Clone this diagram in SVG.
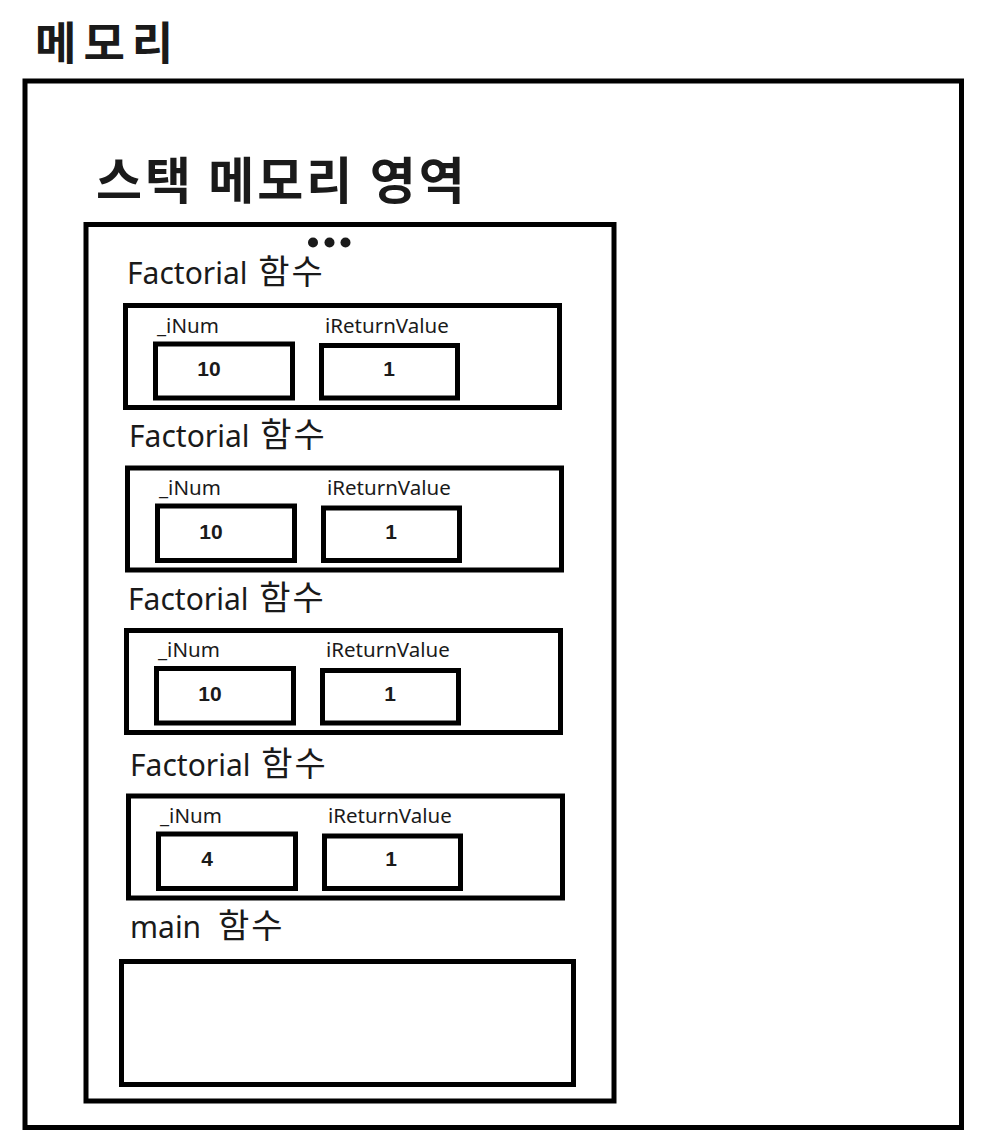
<svg xmlns="http://www.w3.org/2000/svg" width="987" height="1141" viewBox="0 0 987 1141">
<style>
.box{fill:none;stroke:#000;stroke-width:5}
.title{font-family:"Noto Sans CJK KR","Noto Sans",sans-serif;font-weight:bold;fill:#1a1a1a}
.flabel{font-family:"Noto Sans","Noto Sans CJK KR",sans-serif;font-size:30px;fill:#1a1a1a}
.han{font-family:"Noto Sans CJK KR",sans-serif;font-size:34px;letter-spacing:2px}
.vlabel{font-family:"Noto Sans","Noto Sans CJK KR",sans-serif;font-size:20.5px;fill:#1a1a1a}
.val{font-family:"Liberation Sans",Arial,sans-serif;font-weight:bold;font-size:21px;fill:#1a1a1a;text-anchor:middle}
</style>
<rect width="987" height="1141" fill="#fff"/>
<g id="memory">
<text class="title" x="35" y="60" font-size="45" letter-spacing="7">메모리</text>
<rect class="box" x="25" y="81" width="936.5" height="1046.5"/>
</g>
<g id="stack">
<text class="title" x="96" y="199" font-size="50" letter-spacing="3">스택 메모리 영역</text>
<rect class="box" x="86" y="224.5" width="528" height="876.5"/>
<circle cx="313" cy="242.5" r="5" fill="#1a1a1a"/>
<circle cx="329.5" cy="242.5" r="5" fill="#1a1a1a"/>
<circle cx="345.5" cy="242.5" r="5" fill="#1a1a1a"/>
</g>
<g id="frame1">
<text class="flabel" x="127" y="284">Factorial <tspan class="han" dx="3">함수</tspan></text>
<rect class="box" x="125.5" y="305.5" width="434" height="102"/>
<text class="vlabel" x="157" y="333">_iNum</text>
<text class="vlabel" x="325" y="333">iReturnValue</text>
<rect class="box" x="155.5" y="344" width="137" height="54"/>
<rect class="box" x="321.5" y="345.5" width="136" height="52.5"/>
<text class="val" x="209" y="376">10</text>
<text class="val" x="389" y="376">1</text>
</g>
<g id="frame2">
<text class="flabel" x="129" y="447">Factorial <tspan class="han" dx="3">함수</tspan></text>
<rect class="box" x="127.5" y="468" width="434" height="102"/>
<text class="vlabel" x="159" y="495">_iNum</text>
<text class="vlabel" x="327" y="495">iReturnValue</text>
<rect class="box" x="157.5" y="506" width="137" height="54.5"/>
<rect class="box" x="323.5" y="508" width="136" height="52.5"/>
<text class="val" x="211" y="539">10</text>
<text class="val" x="391" y="539">1</text>
</g>
<g id="frame3">
<text class="flabel" x="128" y="610">Factorial <tspan class="han" dx="3">함수</tspan></text>
<rect class="box" x="126.5" y="630.5" width="434" height="102"/>
<text class="vlabel" x="158" y="657">_iNum</text>
<text class="vlabel" x="326" y="657">iReturnValue</text>
<rect class="box" x="156.5" y="668.5" width="137" height="54.5"/>
<rect class="box" x="322.5" y="670.5" width="136" height="52.5"/>
<text class="val" x="210" y="701">10</text>
<text class="val" x="390" y="701">1</text>
</g>
<g id="frame4">
<text class="flabel" x="130" y="776">Factorial <tspan class="han" dx="3">함수</tspan></text>
<rect class="box" x="128.5" y="796" width="434" height="102"/>
<text class="vlabel" x="160" y="823">_iNum</text>
<text class="vlabel" x="328" y="823">iReturnValue</text>
<rect class="box" x="158.5" y="834" width="137" height="54.5"/>
<rect class="box" x="324.5" y="836" width="136" height="52.5"/>
<text class="val" x="207" y="866">4</text>
<text class="val" x="391" y="866">1</text>
</g>
<g id="main">
<text class="flabel" x="130" y="938" font-size="32">main <tspan class="han" dx="9">함수</tspan></text>
<rect class="box" x="121.5" y="961.5" width="452" height="123"/>
</g>
<g id="connectors"></g>
</svg>
